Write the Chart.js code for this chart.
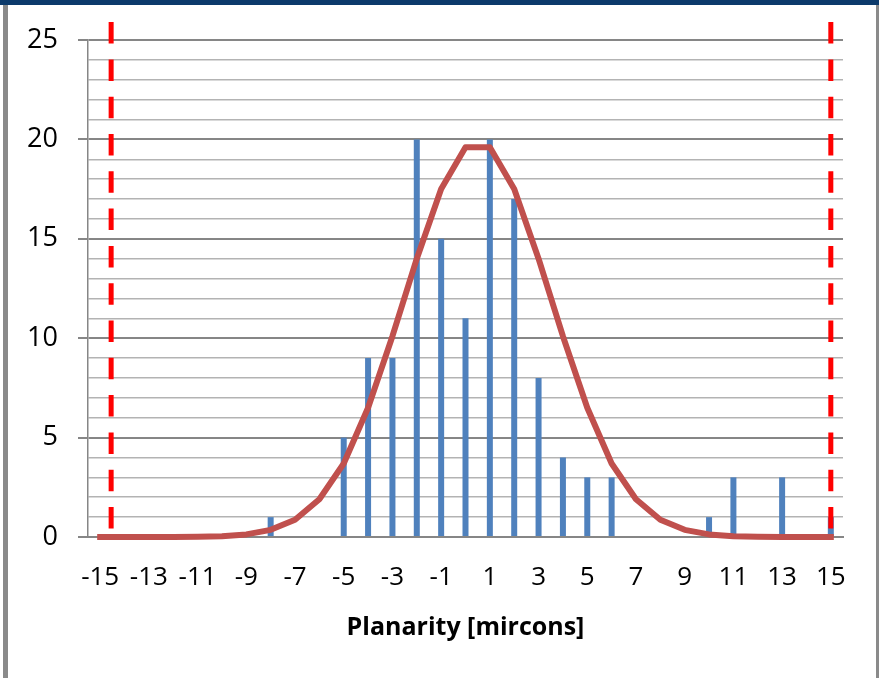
<!DOCTYPE html>
<html>
<head>
<meta charset="utf-8">
<script src="https://cdn.jsdelivr.net/npm/chart.js@4.4.1/dist/chart.umd.min.js"></script>
<style>
  html, body { margin: 0; padding: 0; background: #fff; }
  #wrap { position: relative; width: 879px; height: 678px; overflow: hidden; background: #fff; }
  #c { position: absolute; left: 0; top: 0; }
  .band { position: absolute; left: 0; top: 0; width: 879px; height: 5px; background: #0c3a6b; }
  .lbar { position: absolute; left: 3px; top: 5px; width: 5px; height: 673px; background: #8a8a8a; }
  .rbar { position: absolute; left: 876px; top: 5px; width: 3px; height: 673px; background: #8a8a8a; }
</style>
</head>
<body>
<div id="wrap">
  <canvas id="c" width="879" height="678"></canvas>
  <div class="band"></div>
  <div class="lbar"></div>
  <div class="rbar"></div>
</div>
<script>
// Planarity bins in microns
const planarity = [-15, -14, -13, -12, -11, -10, -9, -8, -7, -6, -5, -4, -3, -2, -1, 0,
                   1, 2, 3, 4, 5, 6, 7, 8, 9, 10, 11, 12, 13, 14, 15];

// Number of parts measured in each bin
const counts = [0, 0, 0, 0, 0, 0, 0, 1, 0, 0, 5, 9, 9, 20, 15, 11,
                20, 17, 8, 4, 3, 3, 0, 0, 0, 1, 3, 0, 3, 0, 1];

// Fitted normal curve, per bin
const fitCurve = [0, 0, 0, 0, 0.01, 0.04, 0.13, 0.36, 0.87, 1.9, 3.7, 6.5, 10.1, 14.0, 17.5, 19.6,
                  19.6, 17.5, 14.0, 10.1, 6.5, 3.7, 1.9, 0.87, 0.36, 0.13, 0.04, 0.01, 0, 0, 0];

// Specification limits (lower, upper) and the height the limit markers reach
const specLimits = [-14.55, 15];
const limitTop = 25.9;

const yMax = 25;
const yMajorStep = 5;

Chart.defaults.font.family = "'Open Sans', sans-serif";
Chart.defaults.color = '#000';

const limitLine = (xv) => ({
  type: 'line',
  xAxisID: 'x2',
  data: [{ x: xv, y: limitTop }, { x: xv, y: 0 }],
  borderColor: '#ff0000',
  borderWidth: 5,
  borderDash: [21.5, 15.8],
  borderCapStyle: 'butt',
  pointRadius: 0,
  fill: false,
  clip: false,
  order: 1
});

new Chart(document.getElementById('c'), {
  type: 'bar',
  data: {
    labels: planarity,
    datasets: [
      {
        type: 'bar',
        data: counts,
        backgroundColor: '#4f81bd',
        borderWidth: 0,
        grouped: false,
        maxBarThickness: 6,
        order: 3
      },
      {
        type: 'line',
        data: fitCurve,
        borderColor: '#c0504d',
        borderWidth: 6,
        borderJoinStyle: 'round',
        borderCapStyle: 'square',
        pointRadius: 0,
        tension: 0,
        fill: false,
        clip: false,
        order: 2
      },
      limitLine(specLimits[0]),
      limitLine(specLimits[1])
    ]
  },
  options: {
    responsive: false,
    animation: false,
    devicePixelRatio: 1,
    layout: { padding: { top: 40, right: 36, left: 0, bottom: 0 } },
    plugins: { legend: { display: false }, tooltip: { enabled: false } },
    scales: {
      x: {
        type: 'category',
        offset: true,
        grid: { display: false, drawTicks: false },
        border: { display: true, color: '#868686', width: 2 },
        ticks: {
          autoSkip: false,
          maxRotation: 0,
          minRotation: 0,
          padding: 25,
          font: { size: 26 },
          color: '#000',
          callback: function (value, index) {
            const v = planarity[index];
            return Math.abs(v) % 2 === 1 ? String(v) : '';
          }
        },
        title: {
          display: true,
          text: 'Planarity [mircons]',
          font: { size: 25, weight: 'bold' },
          color: '#000',
          padding: { top: 0, bottom: 35 }
        },
        afterFit: (scale) => { scale.height = 141; }
      },
      x2: {
        type: 'linear',
        display: false,
        offset: false,
        bounds: 'data',
        min: planarity[0] - 0.5,
        max: planarity[planarity.length - 1] + 0.5
      },
      y: {
        min: 0,
        max: yMax,
        grid: {
          color: (ctx) => (ctx.tick && ctx.tick.value % yMajorStep === 0 ? '#868686' : '#b3b3b3'),
          lineWidth: (ctx) => (ctx.tick && ctx.tick.value % yMajorStep === 0 ? 2 : 1.5),
          tickColor: (ctx) => (ctx.tick && ctx.tick.value % yMajorStep === 0 ? '#868686' : 'rgba(0,0,0,0)'),
          tickLength: 10,
          tickWidth: 2
        },
        border: { display: true, color: '#868686', width: 1.5 },
        ticks: {
          stepSize: 1,
          autoSkip: false,
          padding: 20,
          font: { size: 27 },
          color: '#000',
          callback: (v) => (v % yMajorStep === 0 ? String(v) : '')
        },
        afterFit: (scale) => { scale.width = 88; }
      }
    }
  }
});
</script>
</body>
</html>
